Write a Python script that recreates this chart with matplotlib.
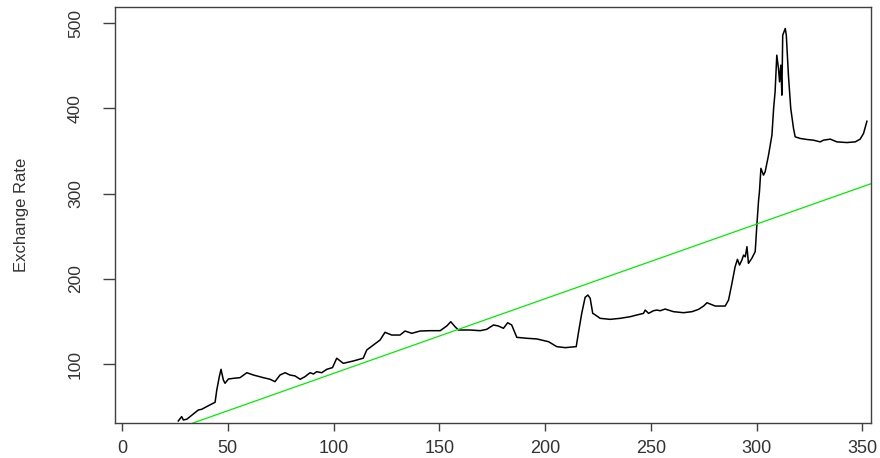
import matplotlib
matplotlib.use('Agg')
import matplotlib.pyplot as plt

plt.rcParams['font.family'] = ['Liberation Sans', 'DejaVu Sans']
narrow = ['Liberation Sans Narrow', 'Liberation Sans', 'DejaVu Sans']

# exchange rate series (time index, rate)
t = [26.6, 28.2, 29.0, 30.6, 33.7, 36.1, 37.7, 40.0, 41.6, 44.0, 44.8, 46.0,
     46.8, 47.9, 48.7, 50.3, 52.6, 55.8, 59.0, 62.1, 66.8, 70.0, 72.3, 74.7,
     77.1, 79.4, 81.8, 84.2, 86.5, 88.9, 90.5, 92.0, 94.4, 96.8, 99.5, 101.5,
     104.6, 109.4, 114.0, 115.7, 118.8, 122.0, 124.3, 127.5, 131.4, 133.8,
     137.0, 140.9, 145.6, 150.4, 153.5, 155.4, 157.4, 159.0, 164.5, 169.3,
     172.4, 175.6, 177.9, 180.3, 182.3, 184.2, 186.6, 191.3, 196.1, 201.6,
     205.5, 209.5, 214.7, 215.7, 217.3, 218.9, 220.2, 221.3, 222.5, 223.3,
     226.0, 230.7, 235.5, 240.2, 243.3, 246.5, 247.3, 248.9, 251.2, 252.8,
     254.4, 256.7, 260.7, 265.4, 269.4, 272.5, 274.9, 276.5, 278.0, 280.4,
     285.1, 286.7, 288.3, 289.8, 290.9, 291.9, 293.0, 293.8, 294.6, 295.4,
     296.1, 297.7, 299.3, 300.1, 300.9, 301.3, 302.0, 303.2, 304.0, 305.6,
     307.2, 308.0, 308.7, 309.5, 310.3, 310.8, 311.4, 311.9, 312.3, 313.5,
     314.0, 315.0, 316.1, 317.4, 318.2, 320.6, 323.7, 326.8, 330.0, 331.6,
     334.8, 337.9, 342.6, 346.6, 348.9, 350.5, 352.1]
rate = [33.4, 38.5, 34.6, 35.4, 41.6, 46.3, 47.1, 50.2, 52.2, 55.3, 69.7, 85.4,
        94.0, 81.5, 77.6, 82.6, 83.4, 84.2, 90.0, 87.3, 84.2, 82.3, 79.5, 87.3,
        90.0, 87.3, 86.2, 82.3, 85.4, 90.0, 88.5, 91.2, 90.0, 94.0, 96.0, 107.0,
        101.0, 103.8, 107.0, 116.7, 122.5, 128.4, 137.4, 134.2, 134.2, 138.9,
        136.2, 138.9, 139.3, 139.3, 144.8, 149.8, 144.0, 140.1, 140.1, 139.3,
        140.9, 146.0, 144.8, 142.1, 148.6, 146.0, 131.5, 130.4, 129.6, 126.4,
        120.6, 119.4, 120.6, 136.2, 159.6, 178.4, 181.1, 177.3, 159.6, 158.5,
        153.8, 152.6, 153.8, 155.7, 157.7, 159.6, 163.5, 159.6, 162.7, 163.5,
        162.7, 164.7, 161.6, 160.4, 161.6, 164.3, 168.2, 172.1, 170.6, 168.2,
        168.2, 175.3, 194.8, 214.3, 223.0, 216.3, 222.2, 228.0, 226.0, 237.8,
        218.3, 224.2, 232.1, 264.0, 292.5, 302.2, 329.7, 321.8, 325.7, 345.3,
        368.7, 400.0, 419.5, 462.5, 446.9, 431.2, 450.8, 415.6, 485.9, 493.8,
        485.9, 439.0, 400.0, 376.6, 366.7, 364.8, 363.6, 362.8, 360.8, 362.8,
        364.0, 360.8, 360.0, 360.8, 364.0, 370.7, 385.0]

# linear trend line (abline)
trend_intercept = 1.6
trend_slope = 0.876

xticks = [0, 50, 100, 150, 200, 250, 300, 350]
yticks = [100, 200, 300, 400, 500]

fig = plt.figure(figsize=(8.8, 4.58), dpi=100)
ax = fig.add_axes([0.1307, 0.0764, 0.859, 0.9083])

ax.plot(t, rate, color='black', linewidth=1.1)
ax.axline((0, trend_intercept), slope=trend_slope, color='#00ee00', linewidth=0.9)

ax.set_xlim(-3.3, 354)
ax.set_ylim(31, 519)
ax.set_xticks(xticks)
ax.set_yticks(yticks)
ax.set_yticklabels([str(v) for v in yticks], rotation=90, va='center',
                   family=narrow)

for s in ax.spines.values():
    s.set_color('#404040')
    s.set_linewidth(1.0)
ax.tick_params(axis='x', length=6, width=1, color='#404040', pad=6,
               labelsize=13, labelcolor='#333333')
ax.tick_params(axis='y', length=9, width=1, color='#404040', pad=14,
               labelsize=12.5, labelcolor='#333333')
ax.set_ylabel('Exchange Rate', fontsize=12, color='#333333', labelpad=28,
              family=narrow)

fig.savefig('out.png', dpi=100)
